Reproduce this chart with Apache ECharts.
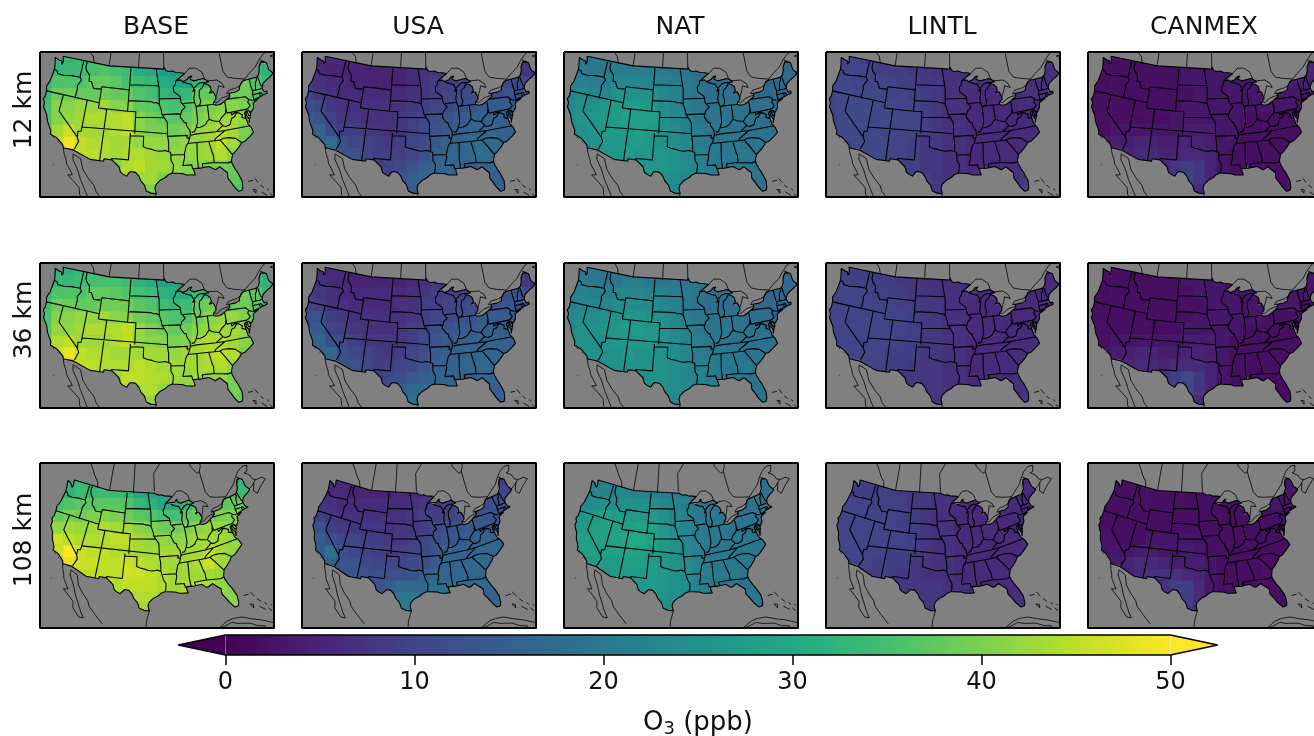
<!DOCTYPE html>
<html><head><meta charset="utf-8">
<style>html,body{margin:0;padding:0;background:#fff}#c{width:1314px;height:736px}</style>
<script src="https://cdn.jsdelivr.net/npm/echarts@6/dist/echarts.min.js"></script>
</head><body><div id="c"></div>
<script>
const COLUMN_LABELS=['BASE','USA','NAT','LINTL','CANMEX'];
const ROW_LABELS=['12 km','36 km','108 km'];
const COLORBAR_TICKS=[0,10,20,30,40,50];
const VIRIDIS=['#440154','#482475','#414487','#355f8d','#2a788e','#21918c','#22a884','#44bf70','#7ad151','#bddf26','#fde725'];

const BASE_12=[
[32,33,33,34,34,35,35,34,31,30,28,28,28,29,29,29,31,32,32,32],
[32,33,34,34,35,36,35,34,31,30,28,28,29,29,30,31,32,33,33,32],
[33,36,36,36,38,38,37,35,34,33,31,30,29,33,34,36,38,39,36,33],
[34,39,39,38,38,39,38,38,36,35,33,32,33,38,38,39,39,39,36,34],
[35,41,41,42,42,43,41,41,38,37,36,35,36,39,40,41,41,40,38,35],
[36,41,42,43,44,44,44,45,41,39,38,37,38,40,41,42,43,42,38,36],
[38,43,46,43,43,43,44,45,41,40,40,39,40,42,43,44,43,40,38,36],
[40,45,49,45,44,44,43,43,42,42,42,41,42,42,43,45,43,39,38,36],
[40,45,47,45,45,44,43,44,44,43,42,42,42,42,43,44,41,39,38,36],
[40,42,42,42,43,42,41,44,45,43,43,42,41,41,40,40,38,37,37,36],
[40,40,40,40,42,42,42,43,43,43,40,40,40,38,38,38,38,37,36,36],
[40,40,40,40,40,41,41,42,42,40,39,38,38,37,37,36,36,36,36,36]];
const USA_12=[
[6,5,6,6,5,5,5,5,5,5,6,7,7,7,7,7,8,8,7,7],
[7,6,5,5,5,5,5,5,5,6,7,8,8,8,8,8,8,8,8,7],
[8,7,6,6,5,5,5,5,5,6,8,9,9,10,10,10,11,11,11,10],
[10,8,7,6,6,6,6,6,6,7,8,9,10,11,11,11,12,12,12,11],
[12,11,8,7,7,7,7,7,7,8,9,10,11,12,13,14,14,14,13,12],
[14,13,9,8,8,7,7,7,8,9,10,12,13,14,15,15,15,15,13,12],
[13,16,11,9,9,8,8,7,8,9,11,13,14,15,16,16,16,15,13,12],
[12,15,18,12,10,10,9,8,9,10,11,14,15,16,17,17,17,15,13,12],
[12,14,14,13,13,10,9,9,9,10,12,15,16,16,17,18,17,15,14,12],
[12,12,12,12,11,10,9,10,11,13,15,16,16,16,15,16,16,15,13,12],
[12,12,12,12,11,10,10,10,13,15,16,15,15,15,15,15,15,14,13,12],
[12,12,12,12,11,10,10,12,13,14,14,14,14,14,14,14,15,15,13,12]];
const NAT_12=[
[20,20,20,20,21,21,21,20,20,19,19,18,18,18,18,18,18,18,18,18],
[21,21,20,20,21,21,21,21,20,20,19,18,18,18,18,17,17,17,17,17],
[22,22,21,21,23,23,23,23,22,21,20,19,18,18,18,17,17,17,17,17],
[22,24,23,23,25,25,25,25,23,22,20,19,18,18,18,18,17,17,17,17],
[23,25,25,26,27,27,27,26,24,23,21,20,19,19,19,18,18,18,17,17],
[24,26,26,27,27,28,28,28,25,23,22,20,19,19,19,19,18,18,17,17],
[24,25,26,27,27,27,28,27,25,24,22,21,20,20,19,19,19,18,18,17],
[24,25,25,26,26,27,27,26,25,24,23,21,20,20,20,19,19,18,18,17],
[24,25,25,26,26,27,26,26,26,25,23,22,21,20,20,20,19,18,18,18],
[24,24,24,25,26,25,25,26,26,25,24,22,21,20,20,19,19,18,18,18],
[24,24,24,25,25,25,25,26,25,24,23,22,21,20,19,19,19,18,18,18],
[24,24,24,25,25,25,25,25,24,23,22,21,20,20,19,19,19,19,18,18]];
const LINTL_12=[
[10,10,10,9,9,9,8,8,7,7,7,7,7,7,7,7,7,7,7,7],
[10,10,10,10,9,9,9,8,8,7,7,7,7,7,7,7,7,7,7,7],
[10,11,10,10,10,10,9,9,8,8,7,7,7,7,7,7,7,7,7,7],
[10,11,11,11,11,10,10,9,9,8,7,7,6,6,6,6,7,7,7,7],
[10,11,11,11,11,11,10,10,9,8,7,7,6,6,6,6,6,6,6,6],
[10,11,11,11,11,11,10,10,9,8,7,7,6,6,6,6,6,6,6,6],
[10,11,11,11,11,10,10,10,9,8,7,7,6,6,6,6,6,6,6,6],
[10,10,11,11,11,10,10,9,8,8,7,7,6,6,6,6,6,6,6,6],
[10,10,11,11,11,10,10,9,8,8,7,7,6,6,6,6,6,6,7,7],
[10,10,10,10,10,9,9,9,8,8,7,7,6,6,6,6,7,7,8,8],
[10,10,10,10,9,9,9,9,9,8,7,7,7,7,7,7,8,9,9,9],
[10,10,10,10,9,9,9,9,9,8,8,8,8,8,8,8,9,10,9,9]];
const CANMEX_12=[
[2,2,2,2,2,2,2,3,3,3,3,3,3,3,3,3,4,4,4,4],
[2,2,2,2,2,2,2,2,3,3,3,3,3,3,3,3,4,4,5,5],
[2,2,2,2,2,2,2,2,3,3,3,3,3,3,3,3,4,4,4,4],
[2,2,2,2,2,2,2,2,2,3,3,3,3,3,3,3,3,3,3,3],
[2,2,2,2,2,2,2,2,3,3,3,3,3,3,3,3,3,3,3,3],
[2,2,2,2,2,2,2,3,3,3,3,3,3,2,2,2,2,2,2,2],
[2,2,3,3,3,3,3,3,4,4,4,3,3,2,2,2,2,2,2,2],
[3,3,4,4,5,5,4,4,5,5,4,3,3,2,2,2,2,2,2,2],
[4,4,4,5,6,6,5,5,6,6,5,3,2,2,2,2,2,2,2,2],
[4,4,4,5,5,5,6,8,9,8,5,3,2,2,2,2,2,2,2,2],
[4,4,4,4,5,5,6,9,10,8,5,3,2,2,2,2,2,2,2,2],
[4,4,4,4,4,5,6,8,9,6,3,2,2,2,2,2,2,3,2,2]];
const BASE_36=[
[31,32,32,33,34,34,34,33,31,30,29,29,29,29,29,30,31,31,31,31],
[32,33,33,34,35,35,35,34,32,31,29,29,29,30,30,31,32,32,33,32],
[33,36,36,36,38,38,37,36,35,34,32,31,31,33,34,36,38,39,37,33],
[35,39,39,38,38,39,39,39,37,36,34,33,34,38,39,39,39,39,37,34],
[36,41,41,42,42,43,41,41,39,38,37,36,36,39,41,42,42,41,38,35],
[37,42,42,43,44,44,44,45,42,40,39,38,39,41,42,43,43,42,39,36],
[39,44,45,43,43,43,44,45,42,41,41,40,41,43,44,44,43,41,39,36],
[41,46,49,45,44,44,43,43,43,43,43,42,43,43,44,45,44,40,38,36],
[41,45,47,45,45,44,44,44,45,44,43,43,43,43,44,44,42,40,38,36],
[41,43,43,43,44,43,42,45,45,44,44,43,42,43,42,42,40,39,37,36],
[41,41,41,41,43,43,43,44,44,44,42,41,42,42,41,41,40,39,37,36],
[41,41,41,41,41,42,42,43,43,42,40,40,40,39,39,39,39,38,37,36]];
const USA_36=[
[6,6,6,6,5,5,5,5,6,6,7,7,7,7,8,8,8,8,8,8],
[7,7,6,6,5,5,5,5,5,6,7,8,8,8,9,9,9,9,9,8],
[9,8,7,6,6,6,6,6,6,7,8,9,9,10,10,11,11,12,12,11],
[10,9,7,7,6,6,6,6,7,7,9,9,10,11,12,12,12,13,12,11],
[12,12,9,8,7,7,7,7,7,8,9,10,11,12,13,14,14,14,13,12],
[14,14,10,9,8,7,7,7,8,9,10,12,13,14,14,15,15,15,14,12],
[13,16,12,11,9,8,8,8,8,9,11,13,14,15,15,16,16,15,13,12],
[12,15,17,12,11,10,9,8,9,10,12,14,15,15,16,16,16,15,13,12],
[12,14,14,13,13,11,9,9,10,11,13,15,15,16,16,17,16,15,14,12],
[12,12,12,12,12,10,9,11,12,14,15,16,16,16,15,16,16,15,13,12],
[12,12,12,12,11,10,10,11,15,17,17,16,16,16,16,16,15,15,13,12],
[12,12,12,12,11,10,10,13,17,18,16,15,15,15,15,15,15,15,13,12]];
const NAT_36=[
[20,20,20,20,20,20,20,20,20,19,19,18,18,18,18,18,18,18,18,18],
[21,21,20,20,20,21,21,20,20,20,19,19,18,18,18,17,17,17,17,17],
[21,22,21,21,22,23,23,22,22,21,20,19,18,18,18,17,17,17,17,17],
[22,23,23,23,24,24,24,24,23,22,20,19,18,18,18,18,17,17,17,17],
[23,24,24,25,25,26,26,25,24,23,21,20,19,19,19,18,18,18,17,17],
[23,25,25,26,26,27,27,26,25,23,22,20,19,19,19,19,18,18,17,17],
[24,25,25,25,26,26,26,26,25,24,22,21,20,20,19,19,19,18,18,17],
[24,25,25,25,25,26,25,25,25,24,23,21,20,20,20,19,19,18,18,17],
[24,24,24,25,25,25,25,25,25,24,23,22,21,20,20,20,19,18,18,18],
[24,24,24,24,24,24,24,25,25,24,23,22,21,20,20,19,19,18,18,18],
[24,24,24,24,24,24,24,25,24,24,23,22,21,20,19,19,19,18,18,18],
[24,24,24,24,24,24,24,24,24,23,22,21,20,20,19,19,19,19,18,18]];
const LINTL_36=[
[9,9,9,9,8,8,8,7,7,7,7,7,7,6,6,6,6,6,6,6],
[10,10,9,9,9,9,8,8,7,7,7,7,7,6,6,6,6,6,6,6],
[10,10,10,10,9,9,9,8,8,7,7,7,7,6,6,6,6,6,6,6],
[10,10,10,10,10,10,9,9,8,8,7,7,6,6,6,6,6,6,6,6],
[10,10,10,10,10,10,10,9,8,8,7,7,6,6,6,6,6,6,6,6],
[10,10,10,10,10,10,10,9,8,8,7,7,6,6,6,6,6,6,6,6],
[10,10,10,10,10,10,9,9,8,8,7,7,6,6,6,6,6,6,6,6],
[10,10,10,10,10,9,9,9,8,8,7,7,6,6,6,6,6,6,6,6],
[10,10,10,10,10,9,9,8,8,8,7,7,6,6,6,6,6,6,7,7],
[9,9,10,9,9,9,8,8,8,8,7,7,6,6,6,6,7,7,7,7],
[9,9,9,9,9,8,8,8,8,8,7,7,6,6,6,7,7,8,8,8],
[9,9,9,9,9,8,8,8,8,7,7,7,7,7,7,7,8,9,8,8]];
const CANMEX_36=[
[2,2,2,2,2,2,2,3,3,3,3,3,3,3,3,3,3,3,3,3],
[2,2,2,2,2,2,2,2,3,3,3,3,3,3,3,3,3,3,3,3],
[2,2,2,2,2,2,2,2,2,3,3,3,3,3,3,3,3,3,3,3],
[2,2,2,2,2,2,2,2,2,2,3,3,3,3,3,3,3,3,2,2],
[2,2,2,2,2,2,2,2,2,3,3,3,3,3,3,2,2,2,2,2],
[2,2,2,2,2,2,2,2,3,3,3,3,3,2,2,2,2,2,2,2],
[2,2,3,3,3,3,3,3,4,4,4,3,2,2,2,2,2,2,2,2],
[3,3,4,4,5,5,4,4,5,5,4,3,2,2,2,2,2,2,2,2],
[4,4,4,5,6,6,5,6,6,6,5,3,2,2,2,2,2,2,2,2],
[4,4,4,5,5,6,7,9,11,8,5,3,2,2,2,2,2,2,2,2],
[4,4,4,4,5,6,7,9,11,8,5,3,2,2,2,2,2,2,2,2],
[4,4,4,4,4,5,6,8,9,6,3,2,2,2,2,2,2,3,2,2]];
const BASE_108=[
[32,32,33,34,34,34,34,34,31,30,29,29,29,29,30,30,31,31,31,31],
[32,33,33,34,34,34,34,34,31,30,29,29,29,30,31,31,32,33,32,31],
[33,33,32,34,33,34,34,33,30,29,29,29,30,31,32,33,34,34,33,33],
[35,35,36,37,37,37,37,36,33,32,30,30,32,36,34,37,38,39,38,36],
[38,38,40,39,40,41,40,39,37,36,35,35,37,38,39,40,40,41,40,38],
[42,42,43,42,43,44,43,43,41,40,39,39,40,41,42,42,42,43,42,40],
[46,46,45,44,44,44,45,45,43,42,42,41,42,43,43,43,42,43,42,40],
[46,46,50,46,45,45,44,44,43,43,43,43,43,43,45,43,42,42,41,40],
[46,46,48,46,46,45,45,46,45,44,43,43,43,44,46,43,42,42,41,40],
[45,45,45,45,45,45,45,46,46,45,44,43,43,43,43,42,42,41,41,40],
[44,44,44,44,44,45,44,45,45,45,44,43,44,45,44,42,41,41,41,40],
[44,44,44,44,44,44,44,44,44,44,43,43,43,42,42,41,41,41,40,40],
[44,44,44,44,44,44,44,44,43,42,42,42,42,41,41,40,41,42,40,40],
[44,44,44,44,44,44,44,44,43,42,42,42,42,41,41,40,40,40,40,40]];
const USA_108=[
[6,6,6,6,6,6,6,6,6,6,7,7,7,7,8,8,8,8,8,8],
[7,7,6,6,5,5,5,5,6,6,7,7,8,8,8,8,9,9,9,9],
[8,7,6,6,5,5,5,5,6,6,7,8,8,9,9,9,10,10,10,10],
[8,8,7,6,6,6,6,6,6,7,8,8,9,10,10,11,12,12,12,12],
[10,9,8,7,7,7,7,7,7,8,9,9,10,11,12,13,13,13,13,13],
[12,12,9,8,8,8,8,7,8,8,9,11,12,13,14,14,14,14,14,14],
[14,14,12,10,10,9,9,8,8,9,10,12,13,14,15,16,16,15,15,15],
[15,14,18,12,11,10,9,9,9,10,11,13,15,15,16,17,17,15,15,15],
[15,15,15,13,13,11,10,10,10,11,12,14,16,16,17,17,16,15,15,15],
[15,15,14,13,13,12,12,12,12,13,15,16,16,16,16,16,16,15,15,15],
[14,14,14,13,12,11,13,15,17,17,17,18,18,18,17,17,16,15,15,15],
[14,14,14,13,12,12,13,15,20,20,19,18,18,18,17,16,16,15,15,15],
[14,14,14,13,12,12,12,14,20,21,18,17,17,16,16,16,16,15,15,15],
[14,14,14,13,12,12,12,14,20,20,18,17,17,16,16,16,16,15,15,15]];
const NAT_108=[
[21,21,21,21,21,21,21,20,20,20,20,19,19,19,19,19,19,19,19,19],
[21,21,21,21,21,21,21,21,20,20,20,19,19,19,19,19,19,19,19,19],
[22,22,22,22,23,23,22,22,21,21,20,19,19,19,19,19,19,19,19,19],
[23,23,24,25,24,25,25,24,23,22,21,20,19,19,19,19,19,19,19,19],
[25,26,27,28,27,27,27,26,25,23,22,20,20,19,19,19,19,19,19,19],
[26,27,28,28,28,28,29,28,26,24,22,21,20,20,19,19,19,19,19,19],
[27,28,28,28,29,30,30,29,27,25,23,21,20,20,20,20,19,19,19,19],
[27,28,28,28,28,29,29,27,26,25,23,22,20,20,20,20,19,19,19,19],
[27,27,27,27,27,28,28,27,26,25,24,22,21,20,20,20,19,19,19,19],
[26,26,26,26,27,27,27,27,26,25,24,22,21,20,20,19,19,19,19,19],
[26,26,26,26,26,26,26,27,26,25,24,22,21,20,20,19,19,19,19,19],
[26,26,26,26,26,26,26,26,25,24,23,21,20,20,20,19,19,19,19,19],
[26,26,26,26,26,26,26,26,25,24,22,21,20,20,20,19,19,19,19,19],
[26,26,26,26,26,26,26,26,25,24,22,21,20,20,20,19,19,19,19,19]];
const LINTL_108=[
[9,9,9,9,9,8,8,8,7,7,7,7,7,6,6,6,6,6,6,6],
[9,9,9,9,9,9,8,8,7,7,7,7,7,6,6,6,6,6,6,6],
[9,9,9,9,9,9,9,8,8,7,7,6,6,6,6,6,6,6,6,6],
[10,10,10,10,9,9,9,8,8,7,7,6,6,6,6,6,6,6,6,6],
[10,10,10,10,10,10,9,9,8,7,7,6,6,6,6,6,6,6,6,6],
[10,10,10,10,10,10,9,9,8,7,7,6,6,6,6,6,6,6,6,6],
[10,10,10,10,10,10,10,9,8,7,7,6,6,6,6,6,6,6,6,6],
[10,10,10,10,10,9,9,9,8,7,7,6,6,6,6,6,6,6,6,6],
[10,10,10,10,9,9,9,8,8,7,7,6,6,6,6,6,6,6,6,6],
[9,9,9,9,9,9,8,8,7,7,7,6,6,6,6,6,6,6,7,7],
[9,9,9,9,9,8,8,8,8,8,7,7,6,6,6,6,6,7,7,7],
[9,9,9,9,8,8,8,8,8,8,7,7,6,6,6,6,7,8,7,7],
[9,9,9,9,8,8,8,8,8,8,7,7,7,7,7,7,8,9,8,8],
[9,9,9,9,8,8,8,8,8,8,7,7,7,7,7,7,8,8,8,8]];
const CANMEX_108=[
[2,2,2,2,2,2,2,2,2,2,3,3,3,3,3,3,3,3,3,3],
[2,2,2,2,2,2,2,2,2,2,3,3,3,3,3,3,3,3,3,3],
[2,2,2,2,2,2,2,2,2,2,2,3,3,3,3,3,3,3,3,3],
[2,2,2,2,2,2,2,2,2,2,2,2,2,3,3,3,3,3,3,3],
[2,2,2,2,2,2,2,2,2,2,2,2,2,2,2,2,2,2,2,2],
[2,2,2,2,2,2,2,2,2,2,2,2,2,2,2,2,2,2,2,2],
[3,3,2,2,2,3,3,3,3,3,2,2,2,2,2,2,2,2,2,2],
[3,3,3,3,4,4,3,3,4,3,2,2,2,2,2,2,2,2,2,2],
[4,4,4,5,6,6,5,4,4,4,3,2,2,2,2,2,2,2,2,2],
[4,4,4,5,6,7,7,7,6,5,3,2,2,2,2,2,2,2,2,2],
[4,4,4,5,5,6,7,9,9,6,3,2,2,2,2,2,2,2,2,2],
[4,4,4,4,5,5,6,8,9,6,3,2,2,2,2,2,2,2,2,2],
[4,4,4,4,4,5,6,7,8,5,3,2,2,2,2,2,2,3,2,2],
[4,4,4,4,4,5,6,7,8,5,3,2,2,2,2,2,2,2,2,2]];

// Geography, as lon,lat pairs
const COAST_WEST_AND_NORTH=[-124.7,48.4,-123.5,48.15,-122.8,48.1,-122.5,47.5,-122.3,47.4,-122.3,48,-122.75,49,-110,49,-95.15,49,-95.15,49.38,-94.8,49.3,-94.6,48.7,-93.8,48.55,-92.9,48.6,-92,48.3,-90.8,48.2,-89.6,48,-90.5,47.6,-92.1,46.75,-90.9,46.9,-90.4,46.55,-89.2,46.85,-88.4,47.4,-87.8,47.45,-88.4,46.9,-87.4,46.5,-86,46.65,-85,46.75,-84.4,46.5,-84.1,46.2,-83.6,46,-84.7,45.95];
const LAKE_MICHIGAN_SHORE=[-84.7,45.95,-85.6,46.05,-86.5,45.85,-87,45.7,-87.6,45.1,-88,44.55,-87.4,44.9,-87.1,45.25,-87.55,44.3,-87.9,43.2,-87.8,42.5,-87.55,41.75,-87.2,41.65,-86.6,41.9,-86.25,42.7,-86.5,43.6,-86.25,44.7,-85.6,45,-85,45.6,-84.75,45.78];
const COAST_EAST_AND_SOUTH=[-84.75,45.78,-84,45.5,-83.4,45.05,-83.3,44.3,-83.9,43.9,-83.6,43.6,-82.9,44.05,-82.45,43,-82.5,42.6,-83.1,42.2,-83.4,41.75,-82.7,41.5,-81.7,41.5,-80.5,42,-79,42.7,-78.9,43,-79.05,43.27,-77.5,43.25,-76.4,43.5,-76.2,44,-75.3,44.85,-74.7,45,-71.5,45,-71.4,45.25,-70.85,45.25,-70.3,45.9,-70,46.7,-69.2,47.45,-68.3,47.35,-67.8,47.05,-67.8,45.7,-67.45,45.3,-67,44.85,-68,44.4,-69,44.1,-70.2,43.6,-70.7,43.05,-70.8,42.6,-71,42.3,-70.6,41.95,-70,42.05,-70,41.65,-70.65,41.55,-71.2,41.5,-71.85,41.32,-73,41.2,-73.7,40.95,-72.3,41.1,-71.9,41.05,-73.9,40.55,-74,40.45,-74.1,39.7,-74.9,38.95,-75.5,39.5,-75.1,38.75,-75.05,38.4,-75.95,37.15,-75.7,37.9,-76.2,38.6,-76,39.45,-76.5,39.1,-76.45,38.3,-76.3,37,-76,36.9,-75.75,36.2,-75.5,35.25,-76.5,34.65,-77.9,33.9,-78.55,33.85,-79.2,33.2,-80,32.6,-80.9,32,-81.4,31,-81.4,30.4,-81,29.3,-80.55,28.4,-80.05,26.9,-80.15,25.75,-80.4,25.2,-81.1,25.13,-81.8,26.1,-82.2,26.9,-82.75,27.8,-82.65,28.8,-83.4,29.5,-84,30.1,-85,29.65,-85.4,29.7,-86.2,30.4,-87.5,30.3,-88,30.25,-88.1,30.6,-88.4,30.35,-89.4,30.3,-89.6,30.2,-89.4,29.8,-89.2,29.1,-90.1,29.15,-91,29.2,-91.8,29.5,-92.3,29.55,-93.85,29.7,-94.7,29.4,-95.3,28.9,-96.4,28.35,-97.2,27.6,-97.4,26.9,-97.15,25.95,-98.2,26.05,-99.1,26.4,-99.5,27.5,-100.3,28.3,-100.7,29.1,-101.4,29.77,-102.3,29.88,-102.7,29.7,-103.15,28.98,-104,29.3,-104.5,29.65,-104.9,30.6,-106.5,31.75,-108.2,31.78,-108.2,31.33,-111.07,31.33,-114.8,32.5,-114.72,32.72,-117.12,32.53,-117.3,33,-118.4,33.75,-118.5,34.03,-119.2,34.15,-120.5,34.45,-120.65,35.15,-121.9,36.6,-122,36.95,-122.5,37.75,-123,38,-123.75,39,-123.8,39.8,-124.35,40.4,-124.1,41,-124.2,42,-124.55,42.85,-124.1,44,-123.95,46.2,-124.1,46.9,-124.7,48.4];
const STATE_BORDERS=[
[-124,46.25,-123.2,46.15,-122.8,45.65,-121.2,45.65,-119.3,45.93,-118.98,46,-116.92,46],
[-124.2,42,-111.05,42],
[-117.03,49,-117.04,46.4,-116.92,46,-116.5,45.5,-117.2,44.4,-117.03,43.8,-117.03,42],
[-116.05,49,-116.05,48,-115.7,47.45,-114.7,46.7,-114.35,46.65,-114.5,45.55,-113.9,45.65,-113.45,44.95,-113,44.45,-112,44.5,-111.5,44.55,-111.05,44.48],
[-111.05,44.48,-111.05,45,-104.06,45],
[-111.05,44.48,-111.05,41,-104.05,41],
[-104.05,49,-104.05,41],
[-111.05,41,-109.05,41,-109.05,31.33],
[-114.05,42,-114.05,36.2,-114.75,36.1,-114.63,35,-114.15,34.27,-114.5,33.9,-114.72,32.72],
[-120,42,-120,39,-114.63,35],
[-114.05,37,-94.62,37],
[-104.05,41,-102.05,41,-102.05,37],
[-103,37,-103,36.5,-103.04,32,-106.62,32,-106.5,31.75],
[-103,36.5,-100,36.5,-100,34.56,-99.2,34.3,-98.1,34.1,-97.2,33.85,-96.4,33.75,-95.2,33.9,-94.48,33.64,-94.04,33.55,-94.04,32,-93.55,31.2,-93.7,30.1,-93.85,29.7],
[-94.48,33.64,-94.43,35.4,-94.62,36.5],
[-94.04,33.02,-91.15,33],
[-104.05,43,-98.5,43,-97.9,42.8,-97.2,42.85,-96.45,42.5,-96.1,41.7,-95.9,41.2,-95.85,40.67,-95.3,40,-94.9,39.8,-94.6,39.1,-94.62,36.5],
[-102.05,40,-95.3,40],
[-95.77,40.58,-91.73,40.61,-91.42,40.38],
[-104.05,45.94,-96.56,45.94],
[-97.23,49,-96.8,47,-96.56,45.94,-96.85,45.6,-96.45,45.3,-96.45,42.5],
[-96.45,43.5,-91.22,43.5],
[-92.1,46.75,-92.3,46.1,-92.85,45.6,-92.75,44.75,-91.25,43.85,-91.22,43.5,-91.1,42.7,-90.64,42.5,-90.15,41.8,-91.05,41.2,-91.42,40.38,-91.5,40,-90.7,39,-90.2,38.8,-90.2,38.4,-89.5,37.3,-89.15,37,-89.5,36.5,-89.7,36,-90.1,35.1,-90.6,34.6,-91.15,33,-91.1,32.5,-91.6,31,-89.75,31,-89.6,30.2],
[-90.64,42.5,-87.8,42.5],
[-90.4,46.55,-89.1,46.13,-88.1,45.9,-87.8,45.35,-87.6,45.1],
[-87.53,41.7,-87.53,39.35,-87.6,38.7,-88.05,37.8],
[-89.15,37,-88.5,37.1,-88.05,37.8,-87.1,37.8,-86.3,38,-85.7,38.3,-85.4,38.7,-84.82,39.1,-84.2,38.8,-83.7,38.65,-82.6,38.4,-82,39,-81.7,39.25,-80.85,39.7,-80.52,40.64],
[-84.82,39.1,-84.8,41.76],
[-87.2,41.76,-84.8,41.76,-83.45,41.73],
[-80.52,39.72,-80.52,42],
[-79.76,42.27,-79.76,42,-75.35,42,-74.7,41.36,-75.13,40.98,-75.2,40.65,-74.75,40.2,-75.4,39.8],
[-80.52,39.72,-75.79,39.72,-75.4,39.8],
[-75.79,39.72,-75.7,38.46,-75.05,38.45],
[-79.48,39.72,-79.48,39.2,-78.4,39.6,-77.72,39.32,-77.05,38.85,-77.3,38.4,-76.3,37.95],
[-77.72,39.32,-78.35,39.4,-78.9,38.8,-79.65,38.6,-80.3,37.5,-81.3,37.3,-81.97,37.54,-83.68,36.6],
[-82.6,38.4,-81.97,37.54],
[-75.9,36.55,-81.68,36.59,-83.68,36.6,-88.07,36.65,-88.07,36.5,-89.5,36.5],
[-94.62,36.5,-90.15,36.5,-90.35,36,-89.7,36],
[-90.3,35,-84.32,35,-84,35.4,-82.9,35.95,-81.68,36.59],
[-88.2,35,-88.1,34.9,-88.47,31.9,-88.4,30.35],
[-85.6,35,-85.18,32.87,-85,32.3,-85.05,31,-84.86,30.7,-82.2,30.57,-82.05,30.35,-82,30.75,-81.45,30.7],
[-87.6,31,-85.05,31],[-87.6,31,-87.45,30.35],
[-84.32,35,-83.1,35,-83.35,34.7,-82,33.5,-81.1,32.1,-80.9,32],
[-83.1,35,-82.3,35.2,-81.05,35.15,-80.8,34.82,-79.67,34.8,-78.55,33.85],
[-73.35,45,-73.4,43.6,-73.27,42.75,-73.5,42.05,-73.5,41.3,-73.65,41],
[-71.5,45,-71.6,44.5,-72.05,44.1,-72.45,43,-72.46,42.73],
[-73.27,42.75,-71.3,42.7,-70.82,42.87],
[-71.08,45.3,-70.98,43.4,-70.7,43.07],
[-73.5,42.05,-71.38,42.02,-71.2,41.5],
[-71.8,42.02,-71.85,41.32],
[-74.7,41.36,-73.9,41]];
const NEIGHBOUR_LINES=[
[-114.05,49,-114.7,50.2,-116,51,-117.5,52.2,-120,53.8,-120,62],
[-110,49,-110,62],[-102,49,-102,62],
[-95.15,49.38,-95.15,52.8,-89,56.9],
[-89.6,48,-88.2,48.9,-86.5,48.8,-85,47.9,-84.7,47,-84.4,46.5],
[-84,46.2,-81.5,46.1,-80.3,45.3,-80,44.5,-81.3,45,-81.7,44.2,-82.45,43],
[-83.1,42.2,-82.5,41.95,-81,42.65,-79.5,42.87,-78.9,43],
[-79.05,43.27,-79.7,43.3,-79,43.85,-77,44,-76.2,44.2],
[-80.4,51.3,-79.5,51.5,-79.5,47.5,-78.7,46.3,-77,45.8,-74.35,45.2],
[-80.4,51.3,-82,52.9,-82.2,55],[-79.5,51.5,-78.6,52.5,-79,55],
[-76.2,44.2,-74.7,45.1,-73,46,-71,46.85,-69.5,47.9,-68,48.7,-66,49.2,-64.3,49],
[-64.3,49,-65.3,48,-66.3,48,-65,47.2,-64.7,46.3,-63.8,46,-64.8,45.7,-66,45.2,-67,45],
[-64.8,45.7,-66.2,44.3,-65.6,43.5,-64,44.3,-63,44.7,-61,45.3,-62,45.9,-64,45.9],
[-70,46.7,-69.2,47.45,-68.3,47.35,-69.2,47.9],
[-117.12,32.53,-116.7,31.6,-116,30.5,-115.7,29.8,-114.6,28.6,-114.1,28,-115,27.8,-113.5,26.8,-112.3,25.9,-112,24.7,-110.4,23.2,-109.5,23.2,-110.3,24.3,-111.3,25.9,-112.3,27.4,-113.2,29,-114.6,30.8,-114.8,31.8],
[-114.8,31.8,-113.1,31.2,-112.2,29.3,-110.9,27.9,-109.5,26.7,-108.9,25.6,-107.5,24.3,-105.8,22.7],
[-97.15,25.95,-97.7,24,-97.8,22.4],
[-118.35,29,-118.25,29.15],[-119.6,33.95,-119.9,34.05],[-118.4,33.35,-118.6,33.45],
[-84.9,21.9,-83.2,22.9,-82,23.15,-80.5,23.1,-79,22.4,-77.5,21.8,-76,21.1,-74.2,20.2,-75,19.9,-77.7,19.85,-77.2,20.6,-78.5,21,-79.5,21.7,-81.5,22.1,-82.5,22.5,-84,22,-84.9,21.9],
[-78.9,26.6,-77.9,26.6],[-77.5,26.9,-77,26],[-78.3,25,-77.9,24.2,-77.7,24.8,-78.3,25],[-76.7,25.5,-76.2,24.9],[-76.8,24.2,-75.9,23.4],[-75.6,24.6,-75.3,24.2],[-75.3,23.6,-74.9,23],[-74.6,24.1,-74.4,23.9]];

const COL_LEFT=[40,302,564,826,1088];
const ROW_TOP=[52,263,463];
const ROW_H=[145,145,165];
const PANEL_W=234;
const LABEL_Y=[110,320,540];
const GRIDS=[[BASE_12,USA_12,NAT_12,LINTL_12,CANMEX_12],[BASE_36,USA_36,NAT_36,LINTL_36,CANMEX_36],[BASE_108,USA_108,NAT_108,LINTL_108,CANMEX_108]];

// Lambert conformal conic (33N, 45N, centre 97W, 40N), then the panel's own scale
const D=Math.PI/180,N=Math.log(Math.cos(33*D)/Math.cos(45*D))/Math.log(Math.tan(67.5*D)/Math.tan(61.5*D));
const FF=Math.cos(33*D)*Math.pow(Math.tan(61.5*D),N)/N;
const rho=lat=>6371*FF/Math.pow(Math.tan((45+lat/2)*D),N);
function lcc(lon,lat){const t=N*(lon+97)*D,r=rho(lat);return [r*Math.sin(t),rho(40)-r*Math.cos(t)];}
const clamp01=t=>Math.max(0,Math.min(1,t));
function project(lon,lat,row){
  const [x,y]=lcc(lon,lat);
  if(row<2) return [117+.0501*x,142-(y+1572)*.0485];
  const mid=Math.max(0,1-(x/2100)*(x/2100));
  const east=clamp01((x-1000)/900)*Math.max(0,1-Math.pow((y+285)/1230,2));
  return [112.3+.04551*x-.00056*y-3.577e-6*x*y-3*mid,71.3-.0004*x-.04579*y-8e-7*x*y+5*mid-4*east];
}
const pairs=a=>{const o=[];for(let i=0;i<a.length;i+=2)o.push([a[i],a[i+1]]);return o;};
function linesData(polys,row){
  const out=[];
  polys.forEach(p=>{pairs(p).forEach(q=>out.push(project(q[0],q[1],row)));out.push([null,null]);});
  return out;
}
function maskPoints(row){
  let ring=pairs(COAST_WEST_AND_NORTH.concat(COAST_EAST_AND_SOUTH)).map(q=>project(q[0],q[1],row));
  const H=ROW_H[row];
  const outer=[[0,0],[PANEL_W,0],[PANEL_W,H],[0,H],[0,0]];
  const area=p=>{let s=0;for(let i=0;i<p.length;i++){const a=p[i],b=p[(i+1)%p.length];s+=a[0]*b[1]-b[0]*a[1];}return s;};
  if(area(ring)*area(outer)>0) ring=ring.slice().reverse();
  return outer.concat(ring,[ring[0]],[[0,0]]);
}

const grid=[],xAxis=[],yAxis=[],series=[],graphic=[],heatIdx=[];
ROW_LABELS.forEach((rl,r)=>{
  const H=ROW_H[r],mask=maskPoints(r),st=linesData([COAST_WEST_AND_NORTH,LAKE_MICHIGAN_SHORE,COAST_EAST_AND_SOUTH].concat(STATE_BORDERS),r),nb=linesData(NEIGHBOUR_LINES,r);
  COLUMN_LABELS.forEach((cl,c)=>{
    const g=grid.length,cells=GRIDS[r][c],ax=xAxis.length,ay=yAxis.length;
    grid.push({left:COL_LEFT[c],top:ROW_TOP[r],width:PANEL_W,height:H,show:true,backgroundColor:'#808080',borderWidth:0,outerBoundsMode:'none'});
    xAxis.push({type:'category',gridIndex:g,show:false,data:cells[0].map((_,i)=>i)});
    yAxis.push({type:'category',gridIndex:g,show:false,inverse:true,data:cells.map((_,i)=>i)});
    xAxis.push({type:'value',gridIndex:g,show:false,min:0,max:PANEL_W});
    yAxis.push({type:'value',gridIndex:g,show:false,inverse:true,min:0,max:H});
    const heat=[];cells.forEach((row,j)=>row.forEach((v,i)=>heat.push([i,j,v])));
    heatIdx.push(series.length);
    series.push({type:'heatmap',xAxisIndex:ax,yAxisIndex:ay,data:heat,z:2,silent:true,itemStyle:{borderWidth:0},emphasis:{disabled:true}});
    series.push({type:'custom',xAxisIndex:ax+1,yAxisIndex:ay+1,data:[[0,0]],z:3,silent:true,clip:true,
      renderItem:(p,api)=>({type:'polygon',shape:{points:mask.map(q=>api.coord(q))},style:{fill:'#808080'}})});
    const lineBase={type:'line',xAxisIndex:ax+1,yAxisIndex:ay+1,showSymbol:false,symbol:'none',silent:true,connectNulls:false,clip:true,animation:false};
    series.push(Object.assign({},lineBase,{data:nb,z:4,lineStyle:{color:'#111',width:.9}}));
    series.push(Object.assign({},lineBase,{data:st,z:4,lineStyle:{color:'#000',width:1.1}}));
    series.push(Object.assign({},lineBase,{data:[[0,0],[PANEL_W,0],[PANEL_W,H],[0,H],[0,0]],z:5,clip:false,lineStyle:{color:'#000',width:2}}));
  });
  graphic.push({type:'text',rotation:Math.PI/2,x:24,y:LABEL_Y[r],style:{text:rl,fill:'#111',font:'25px "DejaVu Sans"',textAlign:'center',textVerticalAlign:'middle'}});
});
COLUMN_LABELS.forEach((cl,c)=>graphic.push({type:'text',x:COL_LEFT[c]+116,y:27,style:{text:cl,fill:'#111',font:'25px "DejaVu Sans"',textAlign:'center',textVerticalAlign:'middle'}}));

// colour bar
const COLORBAR_OUTLINE=[[-2.5,.5],[0,1],[50,1],[52.5,.5],[50,0],[0,0]];
const gb=grid.length;
grid.push({left:225.5,top:635,width:945,height:20,show:false,outerBoundsMode:'none'});
xAxis.push({type:'value',gridIndex:gb,min:0,max:50,interval:10,position:'bottom',data:COLORBAR_TICKS,
  axisLine:{show:false},splitLine:{show:false},axisTick:{show:true,length:10,lineStyle:{color:'#000',width:1.5}},
  axisLabel:{color:'#111',fontSize:24,fontFamily:'DejaVu Sans',margin:16},
  name:'O{s|3} (ppb)',nameLocation:'middle',nameGap:53,nameTextStyle:{color:'#111',fontSize:26,fontFamily:'DejaVu Sans',
    rich:{s:{fontSize:18,fontFamily:'DejaVu Sans',color:'#111',padding:[12,0,0,0]}}}});
yAxis.push({type:'value',gridIndex:gb,show:false,min:0,max:1});
series.push({type:'custom',xAxisIndex:xAxis.length-1,yAxisIndex:yAxis.length-1,data:[[-2.5,0],[52.5,50]],z:6,silent:true,clip:false,
  renderItem:(p,api)=>{const tip=api.value(0),base=api.value(1);return {type:'polygon',
    shape:{points:[api.coord([base,0]),api.coord([tip,.5]),api.coord([base,1])]},
    style:{fill:base===0?VIRIDIS[0]:VIRIDIS[10]}};}});
series.push({type:'custom',xAxisIndex:xAxis.length-1,yAxisIndex:yAxis.length-1,data:[[0,0]],z:7,silent:true,clip:false,
  renderItem:(p,api)=>({type:'polygon',shape:{points:COLORBAR_OUTLINE.map(q=>api.coord(q))},style:{fill:'none',stroke:'#000',lineWidth:1.5,lineJoin:'bevel'}})});

const chart=echarts.init(document.getElementById('c'));
chart.setOption({animation:false,backgroundColor:'#fff',grid,xAxis,yAxis,series,graphic,
  visualMap:{type:'continuous',seriesIndex:heatIdx,dimension:2,min:0,max:50,orient:'horizontal',left:225.5,top:635,itemWidth:20,itemHeight:945,padding:0,
    calculable:false,text:null,showLabel:false,hoverLink:false,inRange:{color:VIRIDIS}}});
</script></body></html>
